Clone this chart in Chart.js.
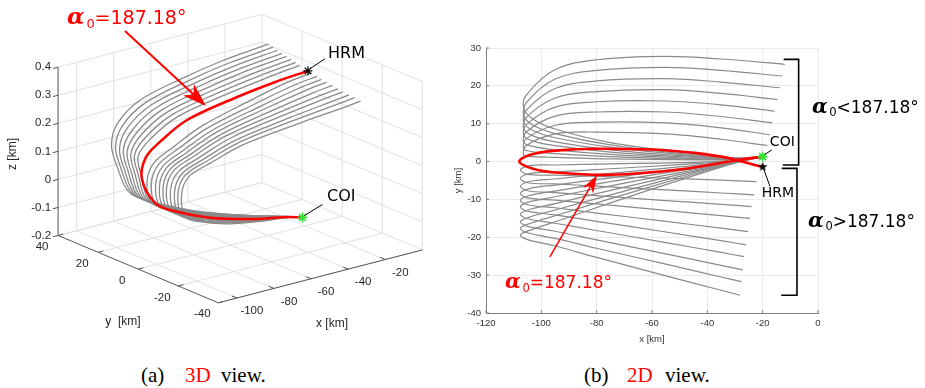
<!DOCTYPE html>
<html>
<head>
<meta charset="utf-8">
<script src="https://cdn.jsdelivr.net/npm/chart.js@4.4.1/dist/chart.umd.min.js"></script>
<style>
  html, body { margin: 0; padding: 0; background: #fff; }
  #wrap { position: relative; width: 925px; height: 388px; overflow: hidden; }
  canvas { position: absolute; top: 0; }
  #c3d { left: 0; }
  #c2d { left: 448px; }
  .cap { position: absolute; top: 365px; font-family: "Liberation Serif", "Times New Roman", serif;
         font-size: 21px; line-height: 21px; color: #000; white-space: nowrap; }
  .red { color: #ff0000; }
</style>
</head>
<body>
<div id="wrap">
  <canvas id="c3d" width="460" height="345"></canvas>
  <canvas id="c2d" width="477" height="345"></canvas>
  <span class="cap" style="left:141px">(a)</span>
  <span class="cap red" style="left:185px">3D</span>
  <span class="cap" style="left:221px">view.</span>
  <span class="cap" style="left:584px">(b)</span>
  <span class="cap red" style="left:627px">2D</span>
  <span class="cap" style="left:665px">view.</span>
</div>
<script>
// ---------------- data (km) ----------------
// red trajectory, alpha0 = 187.18 deg (COI -> left turn -> HRM)
const redX = [-20, -30, -50, -75, -95, -103, -108, -104, -95, -80, -55, -35, -20];
const redY = [1.3, 0.3, -2.1, -3.5, -2.9, -1.9, 0, 1.8, 2.9, 3.4, 3.0, 1.3, -1.4];
// altitude along the path, one profile per family (same sample order as the x/y lists)
const redZ   = [-0.174, -0.152, -0.118, -0.066, -0.008, 0.03, 0.118, 0.182, 0.22, 0.27, 0.306, 0.334, 0.357];
const upperZ = [-0.174, -0.152, -0.118, -0.066, -0.008, 0.03, 0.118, 0.182, 0.22, 0.27, 0.306, 0.334, 0.357];
const lowerZ = [-0.174, -0.152, -0.118, -0.066, -0.008, 0.03, 0.118, 0.182, 0.22, 0.27, 0.318, 0.352, 0.365];

// alpha0 < 187.18 (end above)
const upperX = [
  [-20, -30, -50, -75, -95, -103, -106.3, -105.5, -95, -80, -55, -35, -12],
  [-20, -30, -50, -75, -95, -103, -106.3, -105.5, -95, -80, -55, -35, -12.9],
  [-20, -30, -50, -75, -95, -103, -106.3, -105.5, -95, -80, -55, -35, -13.8],
  [-20, -30, -50, -75, -95, -103, -106.3, -105.5, -95, -80, -55, -35, -14.7],
  [-20, -30, -50, -75, -95, -103, -106.3, -105.5, -95, -80, -55, -35, -15.6],
  [-20, -30, -50, -75, -95, -103, -106.3, -105.5, -95, -80, -55, -35, -16.5],
  [-20, -30, -50, -75, -95, -103, -106.3, -105.5, -95, -80, -55, -35, -17.4],
  [-20, -30, -50, -75, -95, -103, -106.3, -105.5, -95, -80, -55, -35, -18.3]
];
const upperY = [
  [1.3, 1.0, 2.5, 5.0, 8.6, 11.2, 14.0, 17.5, 24.3, 26.9, 27.8, 27.1, 25.7],
  [1.3, 0.9, 2.2, 4.4, 7.4, 9.6, 12.1, 15.5, 21.8, 24.1, 24.9, 24.1, 22.6],
  [1.3, 0.8, 1.9, 3.8, 6.3, 8.2, 10.3, 13.5, 19.3, 21.3, 21.9, 21.0, 19.5],
  [1.3, 0.8, 1.6, 3.1, 5.2, 6.8, 8.5, 11.6, 16.8, 18.5, 19.0, 18.0, 16.4],
  [1.3, 0.7, 1.3, 2.5, 4.2, 5.4, 6.8, 9.7, 14.4, 15.8, 16.0, 15.0, 13.3],
  [1.3, 0.6, 1.0, 1.9, 3.1, 4.0, 5.0, 7.8, 12.0, 13.1, 13.1, 11.9, 10.2],
  [1.3, 0.6, 0.7, 1.3, 2.1, 2.6, 3.3, 6.0, 9.6, 10.4, 10.2, 8.9, 7.1],
  [1.3, 0.5, 0.5, 0.7, 1.1, 1.3, 1.7, 4.2, 7.3, 7.8, 7.3, 5.9, 4.2]
];
// alpha0 > 187.18 (end below)
const lowerX = [
  [-20, -30, -50, -75, -95, -104, -107.6, -105, -95, -80, -55, -35, -22.2],
  [-20, -30, -50, -75, -95, -104, -107.6, -105, -95, -80, -55, -35, -23.1],
  [-20, -30, -50, -75, -95, -104, -107.6, -105, -95, -80, -55, -35, -24],
  [-20, -30, -50, -75, -95, -104, -107.6, -105, -95, -80, -55, -35, -24.6],
  [-20, -30, -50, -75, -95, -104, -107.6, -105, -95, -80, -55, -35, -25.2],
  [-20, -30, -50, -75, -95, -104, -107.6, -105, -95, -80, -55, -35, -26],
  [-20, -30, -50, -75, -95, -104, -107.6, -105, -95, -80, -55, -35, -26.8],
  [-20, -30, -50, -75, -95, -104, -107.6, -105, -95, -80, -55, -35, -27.2],
  [-20, -30, -50, -75, -95, -104, -107.6, -105, -95, -80, -55, -35, -27.6],
  [-20, -30, -50, -75, -95, -104, -107.6, -105, -95, -80, -55, -35, -28.2]
];
const lowerY = [
  [1.3, 0.3, -0.3, -0.6, -0.9, -1.0, -2.2, -3.4, -3.6, -3.9, -4.4, -4.9, -5.3],
  [1.3, 0.2, -0.8, -1.9, -2.7, -3.1, -4.4, -5.6, -5.9, -6.5, -7.5, -8.3, -8.8],
  [1.3, 0.1, -1.4, -3.1, -4.6, -5.2, -6.5, -7.7, -8.2, -9.0, -10.3, -11.3, -11.9],
  [1.3, 0.0, -1.9, -4.3, -6.2, -7.1, -8.4, -9.6, -10.2, -11.2, -12.9, -14.3, -15.0],
  [1.3, -0.1, -2.4, -5.3, -7.8, -8.9, -10.2, -11.4, -12.2, -13.6, -15.8, -17.6, -18.5],
  [1.3, -0.2, -2.9, -6.4, -9.3, -10.6, -11.9, -13.1, -14.1, -15.8, -18.6, -20.9, -22.0],
  [1.3, -0.2, -3.4, -7.6, -11.1, -12.6, -13.9, -15.1, -16.3, -18.2, -21.4, -24.0, -25.1],
  [1.3, -0.3, -3.9, -8.8, -12.8, -14.6, -15.9, -17.1, -18.4, -20.7, -24.4, -27.4, -28.6],
  [1.3, -0.3, -4.4, -9.8, -14.3, -16.3, -17.6, -18.8, -20.3, -22.9, -27.1, -30.5, -31.7],
  [1.3, -0.4, -4.9, -10.9, -15.9, -18.1, -19.4, -20.6, -22.3, -25.3, -30.2, -34.0, -35.3]
];
const coiPos = [-20, 1.3, -0.174];
const hrmPos = [-20, -1.4, 0.357];

// axes of the 3D view
const xLim3 = [-110, 0], yLim3 = [-40, 40], zLim3 = [-0.2, 0.4];
const xTicks3 = [-100, -80, -60, -40, -20];
const yTicks3 = [-40, -20, 0, 20, 40];
const zTicks3 = [-0.2, -0.1, 0, 0.1, 0.2, 0.3, 0.4];
const zTickLabels3 = ['-0.2', '-0.1', '0', '0.1', '0.2', '0.3', '0.4'];

const GRAY = '#8a8a8a';
const RED = '#ff0000';
const GREEN = '#33e033';
const TICK_FONT = '"Liberation Sans", Arial, sans-serif';

// camera of the 3D panel: screen span of each whole axis, from the (xmin, ymin, zmin) corner
const view3 = { corner: [218, 308], xAxis: [210, -55], yAxis: [-165, -70], zAxis: [0, -175] };
function project(x, y, z) {
  const fx = (x - xLim3[0]) / (xLim3[1] - xLim3[0]);
  const fy = (y - yLim3[0]) / (yLim3[1] - yLim3[0]);
  const fz = (z - zLim3[0]) / (zLim3[1] - zLim3[0]);
  return {
    x: view3.corner[0] + fx * view3.xAxis[0] + fy * view3.yAxis[0] + fz * view3.zAxis[0],
    y: view3.corner[1] + fx * view3.xAxis[1] + fy * view3.yAxis[1] + fz * view3.zAxis[1]
  };
}

// ---------------- helpers ----------------
function alphaLabel(ctx, x, y, size, color, rest) {
  ctx.save();
  ctx.fillStyle = color;
  ctx.textAlign = 'left';
  ctx.textBaseline = 'alphabetic';
  ctx.font = 'italic bold ' + (size * 1.2) + 'px "DejaVu Serif", serif';
  ctx.fillText('\u03B1', x, y);
  ctx.font = (size * 0.68) + 'px "DejaVu Sans", sans-serif';
  ctx.fillText('0', x + size * 1.02, y + size * 0.22);
  ctx.font = size + 'px "DejaVu Sans", sans-serif';
  ctx.fillText(rest, x + size * 1.45, y);
  ctx.restore();
}

function arrow(ctx, x1, y1, x2, y2, color, lw, headLen, headW) {
  const a = Math.atan2(y2 - y1, x2 - x1);
  const c = Math.cos(a), s = Math.sin(a);
  const bx = x2 - headLen * c, by = y2 - headLen * s;
  ctx.save();
  ctx.strokeStyle = color;
  ctx.lineWidth = lw;
  ctx.beginPath();
  ctx.moveTo(x1, y1);
  ctx.lineTo(bx + headLen * 0.3 * c, by + headLen * 0.3 * s);
  ctx.stroke();
  ctx.fillStyle = color;
  ctx.beginPath();
  ctx.moveTo(x2, y2);
  ctx.lineTo(bx + headW * s, by - headW * c);
  ctx.lineTo(bx + headLen * 0.3 * c, by + headLen * 0.3 * s);
  ctx.lineTo(bx - headW * s, by + headW * c);
  ctx.closePath();
  ctx.fill();
  ctx.restore();
}

function seg(ctx, a, b) {
  ctx.beginPath();
  ctx.moveTo(a[0], a[1]);
  ctx.lineTo(b[0], b[1]);
  ctx.stroke();
}

function starImage(r, color) {
  const c = document.createElement('canvas');
  const size = Math.ceil(r * 2 + 2);
  c.width = size; c.height = size;
  const g = c.getContext('2d');
  g.fillStyle = color;
  g.beginPath();
  for (let i = 0; i < 10; i++) {
    const a = -Math.PI / 2 + i * Math.PI / 5;
    const rr = i % 2 === 0 ? r : r * 0.42;
    g.lineTo(size / 2 + rr * Math.cos(a), size / 2 + rr * Math.sin(a));
  }
  g.closePath();
  g.fill();
  return c;
}

const curvesX = upperX.concat(lowerX);
const curvesY = upperY.concat(lowerY);
const curvesZ = upperX.map(() => upperZ).concat(lowerX.map(() => lowerZ));

// ---------------- 3D view ----------------
function pts3(xs, ys, zs) {
  return xs.map((x, i) => project(x, ys[i], zs[i]));
}

const box3d = {
  id: 'box3d',
  beforeDatasetsDraw(chart) {
    const ctx = chart.ctx;
    const P = (x, y, z) => {
      const p = project(x, y, z);
      return [chart.scales.x.getPixelForValue(p.x), chart.scales.y.getPixelForValue(p.y)];
    };
    const [x0, x1] = xLim3, [y0, y1] = yLim3, [z0, z1] = zLim3;
    ctx.save();
    ctx.strokeStyle = '#e0e0e0';
    ctx.lineWidth = 1;
    xTicks3.forEach(x => seg(ctx, P(x, y0, z0), P(x, y1, z0)));
    yTicks3.forEach(y => seg(ctx, P(x0, y, z0), P(x1, y, z0)));
    xTicks3.forEach(x => seg(ctx, P(x, y1, z0), P(x, y1, z1)));
    zTicks3.forEach(z => seg(ctx, P(x0, y1, z), P(x1, y1, z)));
    yTicks3.forEach(y => seg(ctx, P(x1, y, z0), P(x1, y, z1)));
    zTicks3.forEach(z => seg(ctx, P(x1, y0, z), P(x1, y1, z)));
    ctx.strokeStyle = '#555';
    seg(ctx, P(x0, y0, z0), P(x1, y0, z0));
    seg(ctx, P(x0, y0, z0), P(x0, y1, z0));
    seg(ctx, P(x0, y1, z0), P(x0, y1, z1));
    xTicks3.forEach(x => seg(ctx, P(x, y0, z0), P(x, y0 + 2.5, z0)));
    yTicks3.forEach(y => seg(ctx, P(x0, y, z0), P(x0 + 2.8, y, z0)));
    zTicks3.forEach(z => seg(ctx, P(x0, y1, z), P(x0 - 2.8, y1, z)));

    ctx.fillStyle = '#262626';
    ctx.font = '11.5px ' + TICK_FONT;
    ctx.textBaseline = 'middle';
    ctx.textAlign = 'right';
    zTicks3.forEach((z, i) => { const p = P(x0, y1, z); ctx.fillText(zTickLabels3[i], p[0] - 7, p[1]); });
    ctx.textAlign = 'center';
    yTicks3.forEach(y => { const p = P(x0, y, z0); ctx.fillText(String(y), p[0] - 16, p[1] + 11.5); });
    xTicks3.forEach(x => { const p = P(x, y0, z0); ctx.fillText(String(x), p[0] + 15, p[1] + 13); });
    ctx.font = '12px ' + TICK_FONT;
    ctx.fillText('y  [km]', 123, 322);
    ctx.fillText('x [km]', 332, 324);
    ctx.save();
    ctx.translate(13, 154);
    ctx.rotate(-Math.PI / 2);
    ctx.fillText('z [km]', 0, 0);
    ctx.restore();
    ctx.restore();
  },
  afterDatasetsDraw(chart) {
    const ctx = chart.ctx;
    const P = (p3) => {
      const p = project(p3[0], p3[1], p3[2]);
      return [chart.scales.x.getPixelForValue(p.x), chart.scales.y.getPixelForValue(p.y)];
    };
    alphaLabel(ctx, 67, 24, 19, RED, '=187.18\u00B0');
    arrow(ctx, 125, 31, 206, 106, RED, 2, 24, 8);
    const h = P(hrmPos), c = P(coiPos);
    ctx.save();
    ctx.strokeStyle = '#000';
    ctx.lineWidth = 1;
    seg(ctx, [h[0] + 2, h[1] - 2], [h[0] + 17, h[1] - 12]);
    seg(ctx, [c[0] + 2, c[1] - 2], [c[0] + 20, c[1] - 13]);
    ctx.fillStyle = '#000';
    ctx.font = '16px "DejaVu Sans", sans-serif';
    ctx.textAlign = 'left';
    ctx.textBaseline = 'alphabetic';
    ctx.fillText('HRM', 328, 58);
    ctx.fillText('COI', 327, 201);
    ctx.restore();
  }
};

// Chart.js draws a lower "order" on top
const ds3 = curvesX.map((xs, i) => ({
  data: pts3(xs, curvesY[i], curvesZ[i]), order: 3,
  showLine: true, borderColor: GRAY, borderWidth: 1.3, pointRadius: 0, tension: 0.35
}));
ds3.push({ data: pts3(redX, redY, redZ), order: 2, showLine: true, borderColor: RED, borderWidth: 2.5, pointRadius: 0, tension: 0.35 });
ds3.push({ data: [project(...coiPos)], order: 1, pointStyle: 'star', pointRadius: 5, pointBorderColor: GREEN, pointBorderWidth: 1.6 });
ds3.push({ data: [project(...hrmPos)], order: 1, pointStyle: 'star', pointRadius: 4.5, pointBorderColor: '#000', pointBorderWidth: 1.2 });

new Chart(document.getElementById('c3d'), {
  type: 'scatter',
  data: { datasets: ds3 },
  options: {
    responsive: false, animation: false, events: [],
    layout: { padding: 0 },
    plugins: { legend: { display: false }, tooltip: { enabled: false } },
    scales: {
      x: { type: 'linear', display: false, min: 0, max: 460 },
      y: { type: 'linear', display: false, min: 0, max: 345, reverse: true }
    }
  },
  plugins: [box3d]
});

// ---------------- 2D view ----------------
const annot2d = {
  id: 'annot2d',
  afterDraw(chart) {
    const ctx = chart.ctx;
    const sx = chart.scales.x, sy = chart.scales.y;
    const X = v => sx.getPixelForValue(v), Y = v => sy.getPixelForValue(v);
    const area = chart.chartArea;
    ctx.save();
    // inward ticks
    ctx.strokeStyle = '#808080';
    ctx.lineWidth = 1;
    sx.ticks.forEach(t => seg(ctx, [X(t.value), area.bottom], [X(t.value), area.bottom - 3]));
    sy.ticks.forEach(t => seg(ctx, [area.left, Y(t.value)], [area.left + 3, Y(t.value)]));
    // axis titles
    ctx.fillStyle = '#333';
    ctx.font = '9.5px ' + TICK_FONT;
    ctx.textAlign = 'center';
    ctx.textBaseline = 'middle';
    ctx.fillText('x [km]', (area.left + area.right) / 2, 339);
    ctx.save();
    ctx.translate(10, (area.top + area.bottom) / 2);
    ctx.rotate(-Math.PI / 2);
    ctx.fillText('y [km]', 0, 0);
    ctx.restore();
    // brackets
    ctx.strokeStyle = '#000';
    ctx.lineWidth = 1.6;
    ctx.beginPath();
    ctx.moveTo(X(-12.4), Y(27.0)); ctx.lineTo(X(-7.0), Y(27.0));
    ctx.lineTo(X(-7.0), Y(-0.9)); ctx.lineTo(X(-12.7), Y(-0.9));
    ctx.stroke();
    ctx.beginPath();
    ctx.moveTo(X(-13.1), Y(-1.8)); ctx.lineTo(X(-7.6), Y(-1.8));
    ctx.lineTo(X(-7.6), Y(-35.3)); ctx.lineTo(X(-13.3), Y(-35.3));
    ctx.stroke();
    alphaLabel(ctx, X(-2.2), Y(12.9), 17, '#000', '<187.18\u00B0');
    alphaLabel(ctx, X(-3.6), Y(-17.2), 17, '#000', '>187.18\u00B0');
    alphaLabel(ctx, X(-113.1), Y(-33.4), 17, RED, '=187.18\u00B0');
    arrow(ctx, X(-96.9), Y(-25.2), X(-79.9), Y(-3.6), RED, 1.5, 18, 6);
    // COI / HRM labels
    ctx.strokeStyle = '#000';
    ctx.lineWidth = 1;
    seg(ctx, [X(coiPos[0]) + 2, Y(coiPos[1]) - 2], [X(-16.7), Y(3.1)]);
    seg(ctx, [X(hrmPos[0]) + 1, Y(hrmPos[1]) + 2], [X(-17.4), Y(-6.5)]);
    ctx.fillStyle = '#000';
    ctx.font = '14px "DejaVu Sans", sans-serif';
    ctx.textAlign = 'left';
    ctx.textBaseline = 'alphabetic';
    ctx.fillText('COI', X(-17.4), Y(4.0));
    ctx.fillText('HRM', X(-20.3), Y(-9.3));
    ctx.restore();
  }
};

const ds2 = curvesX.map((xs, i) => ({
  data: xs.map((x, j) => ({ x: x, y: curvesY[i][j] })), order: 3,
  showLine: true, borderColor: GRAY, borderWidth: 1.2, pointRadius: 0, tension: 0.35
}));
ds2.push({ data: redX.map((x, j) => ({ x: x, y: redY[j] })), order: 2, showLine: true, borderColor: RED, borderWidth: 2.6, pointRadius: 0, tension: 0.35 });
ds2.push({ data: [{ x: coiPos[0], y: coiPos[1] }], order: 1, pointStyle: 'star', pointRadius: 5, pointBorderColor: GREEN, pointBorderWidth: 1.6 });
ds2.push({ data: [{ x: hrmPos[0], y: hrmPos[1] }], order: 1, pointStyle: starImage(5, '#000'), pointRadius: 5 });

new Chart(document.getElementById('c2d'), {
  type: 'scatter',
  data: { datasets: ds2 },
  options: {
    responsive: false, animation: false, events: [],
    layout: { padding: { top: 48, right: 107, left: 0, bottom: 0 } },
    plugins: { legend: { display: false }, tooltip: { enabled: false } },
    scales: {
      x: {
        type: 'linear', min: -120, max: 0,
        ticks: { stepSize: 20, padding: 5, color: '#333', font: { family: 'Liberation Sans', size: 9.5 } },
        grid: { color: '#ebebeb', drawTicks: false },
        border: { color: '#808080' },
        afterFit: s => { s.height = 32; }
      },
      y: {
        type: 'linear', min: -40, max: 30,
        ticks: { stepSize: 10, padding: 5, color: '#333', font: { family: 'Liberation Sans', size: 9.5 } },
        grid: { color: '#ebebeb', drawTicks: false },
        border: { color: '#808080' },
        afterFit: s => { s.width = 38; }
      }
    }
  },
  plugins: [annot2d]
});
</script>
</body>
</html>
